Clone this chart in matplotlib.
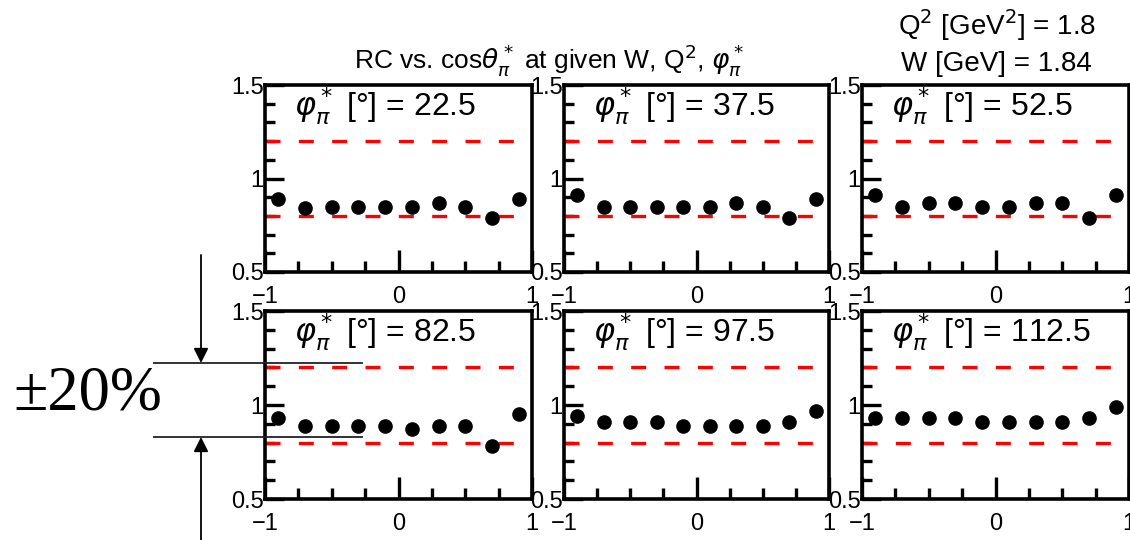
from __future__ import annotations

import matplotlib

matplotlib.use("Agg")
import matplotlib.pyplot as plt
from matplotlib.lines import Line2D
from matplotlib.patches import FancyArrowPatch


# RC values vs. cos(theta_pi*) for each phi_pi* bin, Q^2 = 1.8 GeV^2, W = 1.84 GeV
COS_THETA = [-0.9, -0.7, -0.5, -0.3, -0.1, 0.1, 0.3, 0.5, 0.7, 0.9]
PHI_BINS = [22.5, 37.5, 52.5, 82.5, 97.5, 112.5]
RC_PHI_22 = [0.89, 0.84, 0.85, 0.85, 0.85, 0.85, 0.87, 0.85, 0.79, 0.89]
RC_PHI_37 = [0.91, 0.85, 0.85, 0.85, 0.85, 0.85, 0.87, 0.85, 0.79, 0.89]
RC_PHI_52 = [0.91, 0.85, 0.87, 0.87, 0.85, 0.85, 0.87, 0.87, 0.79, 0.91]
RC_PHI_82 = [0.93, 0.89, 0.89, 0.89, 0.89, 0.87, 0.89, 0.89, 0.78, 0.95]
RC_PHI_97 = [0.94, 0.91, 0.91, 0.91, 0.89, 0.89, 0.89, 0.89, 0.91, 0.97]
RC_PHI_112 = [0.93, 0.93, 0.93, 0.93, 0.91, 0.91, 0.91, 0.91, 0.93, 0.99]
RC_SERIES = [RC_PHI_22, RC_PHI_37, RC_PHI_52, RC_PHI_82, RC_PHI_97, RC_PHI_112]

BAND = [0.8, 1.2]
Q2_VALUE = 1.8
W_VALUE = 1.84

W_PX, H_PX = 1130, 540
# panel boxes in pixels: left, top, width, height
COL_LEFT = [265, 564, 862]
COL_WIDTH = [267, 265, 267]
ROW_TOP = [85, 311]
ROW_HEIGHT = [187, 188]


def fx(px: float) -> float:
    return px / W_PX


def fy(py: float) -> float:
    return 1 - py / H_PX


def style_panel(ax) -> None:
    ax.set_xlim(-1, 1)
    ax.set_ylim(0.5, 1.5)
    ax.set_xticks([-1, 0, 1])
    ax.set_xticklabels(["\u22121", "0", "1"])
    ax.set_xticks([-0.75, -0.5, -0.25, 0.25, 0.5, 0.75], minor=True)
    ax.set_yticks([0.5, 1, 1.5])
    ax.set_yticklabels(["0.5", "1", "1.5"])
    ax.set_yticks([0.6, 0.7, 0.8, 0.9, 1.1, 1.2, 1.3, 1.4], minor=True)
    ax.tick_params(which="both", direction="in", top=False, right=False,
                   width=2.4, labelsize=17, color="black")
    ax.tick_params(axis="x", which="major", length=16, pad=10)
    ax.tick_params(axis="x", which="minor", length=8)
    ax.tick_params(axis="y", which="major", length=14, pad=1)
    ax.tick_params(axis="y", which="minor", length=7.5)
    for spine in ax.spines.values():
        spine.set_linewidth(2.6)


def draw_panel(ax, values: list[float], phi: float) -> None:
    for level in BAND:
        ax.plot([-1, 1], [level, level], color="#ff0000", lw=2.4,
                dashes=(4.5, 5.5), solid_capstyle="butt", zorder=2)
    ax.plot(COS_THETA, values, "o", color="black", ms=9.5, zorder=3, clip_on=False)
    ax.text(0.11, 0.885, rf"$\varphi_\pi^*$ [°] = {phi:g}", transform=ax.transAxes,
            ha="left", va="center", fontsize=23)
    style_panel(ax)


def draw_band_annotation(fig) -> None:
    y_hi, y_lo = 363, 437
    for y in (y_hi, y_lo):
        fig.add_artist(Line2D([fx(154), fx(362)], [fy(y), fy(y)], color="#222222",
                              lw=1.3, transform=fig.transFigure, zorder=10))
    fig.add_artist(FancyArrowPatch((fx(201), fy(255)), (fx(201), fy(y_hi)),
                                   transform=fig.transFigure, arrowstyle="-|>",
                                   mutation_scale=22, color="black", lw=1.3,
                                   shrinkA=0, shrinkB=0, zorder=10))
    fig.add_artist(FancyArrowPatch((fx(201), fy(545)), (fx(201), fy(y_lo)),
                                   transform=fig.transFigure, arrowstyle="-|>",
                                   mutation_scale=22, color="black", lw=1.3,
                                   shrinkA=0, shrinkB=0, zorder=10))
    fig.text(fx(13), fy(395), "\u00b120%", ha="left", va="center", fontsize=45,
             family=["Liberation Serif", "DejaVu Serif"])


def main() -> None:
    plt.rcParams["font.family"] = ["Liberation Sans Narrow", "Liberation Sans", "DejaVu Sans"]
    plt.rcParams["mathtext.fontset"] = "dejavusans"

    fig = plt.figure(figsize=(W_PX / 100, H_PX / 100), dpi=100)
    fig.patch.set_facecolor("white")

    for idx, (values, phi) in enumerate(zip(RC_SERIES, PHI_BINS)):
        row, col = divmod(idx, 3)
        left = COL_LEFT[col]
        top = ROW_TOP[row]
        rect = [fx(left), fy(top + ROW_HEIGHT[row]), COL_WIDTH[col] / W_PX, ROW_HEIGHT[row] / H_PX]
        ax = fig.add_axes(rect)
        draw_panel(ax, values, phi)

    fig.text(fx(549), fy(60), r"RC vs. cos$\theta_\pi^*$ at given W, Q$^2$, $\varphi_\pi^*$",
             ha="center", va="center", fontsize=19)
    fig.text(fx(997), fy(25), rf"Q$^2$ [GeV$^2$] = {Q2_VALUE:g}", ha="center", va="center", fontsize=20)
    fig.text(fx(996), fy(64), f"W [GeV] = {W_VALUE:g}", ha="center", va="center", fontsize=20)

    draw_band_annotation(fig)

    fig.savefig("out.png", dpi=100)
    plt.close(fig)


if __name__ == "__main__":
    main()
